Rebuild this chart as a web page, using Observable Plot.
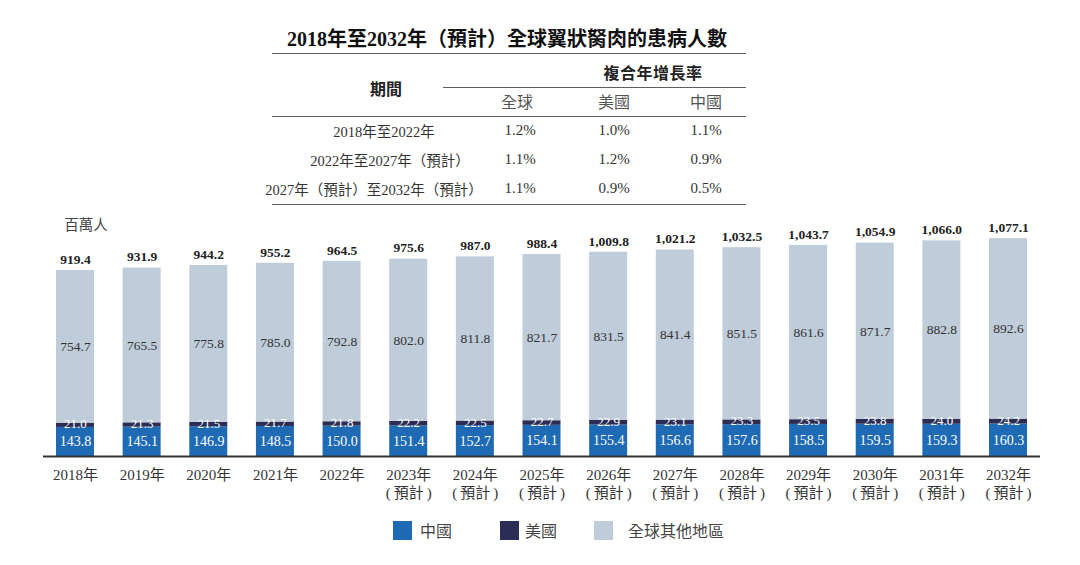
<!DOCTYPE html>
<html>
<head>
<meta charset="utf-8">
<script src="https://cdn.jsdelivr.net/npm/d3@7"></script>
<script src="https://cdn.jsdelivr.net/npm/@observablehq/plot@0.6"></script>
<style>
  body { margin: 0; background: #fff; }
  #wrap { position: relative; width: 1080px; height: 565px; overflow: hidden;
    font-family: "Liberation Serif", "Noto Sans CJK TC", serif; color: #333; }
  .a { position: absolute; white-space: nowrap; transform: translate(-50%, -50%); }
  .line { position: absolute; height: 0; border-top: 1.8px solid #5f5f5f; }
  #chart { position: absolute; left: 0; top: 205px; }
  .sw { position: absolute; width: 19px; height: 19px; }
</style>
</head>
<body>
<div id="wrap">
  <div id="head"></div>
  <div id="chart"></div>
  <div id="legend"></div>
</div>
<script>
const title = "2018年至2032年（預計）全球翼狀胬肉的患病人數";
const cagrHeader = "複合年增長率";
const periodHeader = "期間";
const cagrCols = ["全球", "美國", "中國"];
const periods = ["2018年至2022年", "2022年至2027年（預計）", "2027年（預計）至2032年（預計）"];
const cagrGlobal = ["1.2%", "1.1%", "1.1%"];
const cagrUS = ["1.0%", "1.2%", "0.9%"];
const cagrChina = ["1.1%", "0.9%", "0.5%"];

const F = "(\u2009預計\u2009)";
const xLabels = ["2018年", "2019年", "2020年", "2021年", "2022年",
  "2023年\n" + F, "2024年\n" + F, "2025年\n" + F, "2026年\n" + F, "2027年\n" + F,
  "2028年\n" + F, "2029年\n" + F, "2030年\n" + F, "2031年\n" + F, "2032年\n" + F];
const china = [143.8, 145.1, 146.9, 148.5, 150.0, 151.4, 152.7, 154.1, 155.4, 156.6, 157.6, 158.5, 159.5, 159.3, 160.3];
const us = [21.0, 21.3, 21.5, 21.7, 21.8, 22.2, 22.5, 22.7, 22.9, 23.1, 23.3, 23.5, 23.8, 24.0, 24.2];
const rest = [754.7, 765.5, 775.8, 785.0, 792.8, 802.0, 811.8, 821.7, 831.5, 841.4, 851.5, 861.6, 871.7, 882.8, 892.6];
const totals = ["919.4", "931.9", "944.2", "955.2", "964.5", "975.6", "987.0", "988.4", "1,009.8", "1,021.2", "1,032.5", "1,043.7", "1,054.9", "1,066.0", "1,077.1"];
const regions = ["中國", "美國", "全球其他地區"];
const colors = ["#1e6ab4", "#2b2d54", "#bfccd9"];
const unit = "百萬人";

// ---------- header / table ----------
const head = document.getElementById("head");
function put(text, x, y, style) {
  const d = document.createElement("div");
  d.className = "a";
  d.textContent = text;
  d.style.left = x + "px";
  d.style.top = y + "px";
  Object.assign(d.style, style || {});
  head.appendChild(d);
}
function hline(x1, x2, y) {
  const d = document.createElement("div");
  d.className = "line";
  d.style.left = x1 + "px";
  d.style.width = (x2 - x1) + "px";
  d.style.top = y + "px";
  head.appendChild(d);
}
put(title, 507, 37, {fontSize: "20px", fontWeight: "bold", color: "#111"});
hline(272, 746, 53);
put(cagrHeader, 653, 72, {fontSize: "16px", fontWeight: "bold", color: "#222", letterSpacing: "0.5px"});
hline(443, 746, 87);
put(periodHeader, 386, 88, {fontSize: "16px", fontWeight: "bold", color: "#222"});
const colX = [517, 614, 706];
cagrCols.forEach((c, i) => put(c, colX[i], 101, {fontSize: "16px", color: "#555"}));
hline(272, 746, 116);
const rowY = [130, 159, 188];
const rowX = [384, 390, 374];
periods.forEach((p, i) => {
  put(p, rowX[i], rowY[i], {fontSize: "14.5px", color: "#333"});
  put(cagrGlobal[i], colX[0] + 3, rowY[i], {fontSize: "15px", color: "#333"});
  put(cagrUS[i], colX[1], rowY[i], {fontSize: "15px", color: "#333"});
  put(cagrChina[i], colX[2], rowY[i], {fontSize: "15px", color: "#333"});
});
hline(272, 746, 204);
put(unit, 86, 223, {fontSize: "14.5px", color: "#444"});

// ---------- chart ----------
const rows = [];
const labels = [];
xLabels.forEach((x, i) => {
  rows.push({x, region: regions[0], value: china[i]});
  rows.push({x, region: regions[1], value: us[i]});
  rows.push({x, region: regions[2], value: rest[i]});
  labels.push({
    x,
    chinaMid: china[i] / 2, chinaText: china[i].toFixed(1),
    usMid: china[i] + us[i] / 2, usText: us[i].toFixed(1),
    restMid: china[i] + us[i] + rest[i] / 2, restText: rest[i].toFixed(1),
    top: china[i] + us[i] + rest[i], totalText: totals[i]
  });
});

const font = "'Liberation Serif', 'Noto Sans CJK TC', serif";
const plot = Plot.plot({
  width: 1080,
  height: 301,
  marginLeft: 43,
  marginRight: 40,
  marginTop: 28.5,
  marginBottom: 50,
  style: {fontFamily: font, fontSize: "14px", background: "transparent"},
  x: {domain: xLabels, paddingInner: 0.43, paddingOuter: 0.195, round: false, label: null},
  y: {domain: [0, 1100], axis: null},
  color: {domain: regions, range: colors},
  marks: [
    Plot.barY(rows, {x: "x", y: "value", fill: "region", order: regions}),
    Plot.ruleY([0], {stroke: "#333", strokeWidth: 2}),
    Plot.text(labels, {x: "x", y: "chinaMid", text: "chinaText", fill: "white", fontSize: 14}),
    Plot.text(labels, {x: "x", y: "usMid", text: "usText", fill: "white", fontSize: 13, dy: -1}),
    Plot.text(labels, {x: "x", y: "restMid", text: "restText", fill: "#333", fontSize: 13.5}),
    Plot.text(labels, {x: "x", y: "top", text: "totalText", fill: "#222", fontSize: 13.5, fontWeight: "bold", dy: -11}),
    Plot.axisX({tickSize: 0, tickPadding: 11, fontSize: 15, lineHeight: 1.2, fill: "#333", label: null})
  ]
});
document.getElementById("chart").appendChild(plot);

// ---------- legend ----------
const legend = document.getElementById("legend");
const swX = [393, 500, 594];
const txX = [436, 541, 676];
regions.forEach((r, i) => {
  const s = document.createElement("div");
  s.className = "sw";
  s.style.left = swX[i] + "px";
  s.style.top = "521px";
  s.style.background = colors[i];
  legend.appendChild(s);
  const t = document.createElement("div");
  t.className = "a";
  t.textContent = r;
  t.style.left = txX[i] + "px";
  t.style.top = "530px";
  t.style.fontSize = "16px";
  t.style.color = "#444";
  legend.appendChild(t);
});
</script>
</body>
</html>
